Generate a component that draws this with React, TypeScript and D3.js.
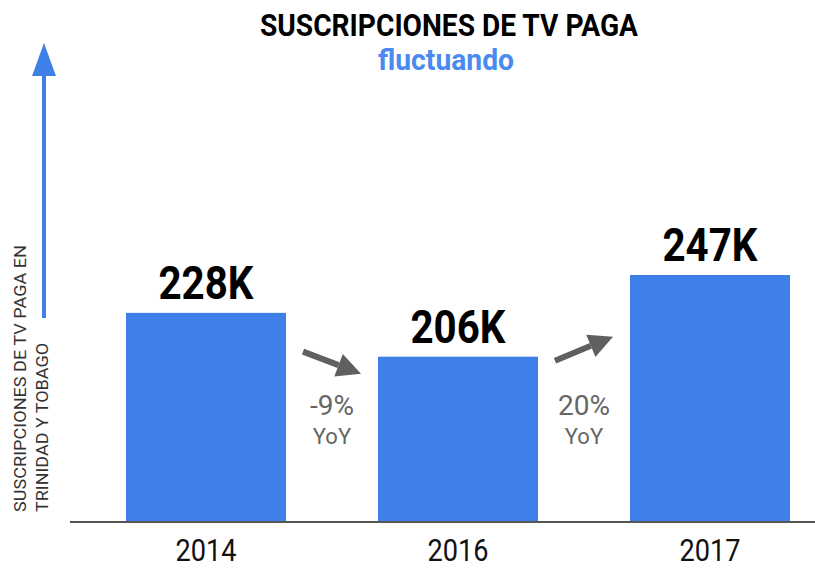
import React from "react";
import * as d3 from "d3";

const years = ["2014", "2016", "2017"];
const values = [228, 206, 247];
const valueLabels = ["228K", "206K", "247K"];
const yoyLabels = ["-9%", "20%"];
const title = "SUSCRIPCIONES DE TV PAGA";
const subtitle = "fluctuando";
const yLabelLines = ["SUSCRIPCIONES DE TV PAGA EN", "TRINIDAD Y TOBAGO"];

const W = 815;
const H = 568;
const BLUE = "#3f80e8";
const GRAY = "#606060";
const FONT = "Roboto, 'Noto Sans', sans-serif";

export default function App() {
  const x = d3.scaleBand<string>().domain(years).range([80, 836]).paddingInner(0.365).paddingOuter(0.1825);
  const y = d3.scaleLinear().domain([123, 247]).range([522, 275]);
  const bw = x.bandwidth();

  const arrows = years.slice(0, -1).map((yr, i) => {
    const x0 = (x(yr) as number) + bw;
    const x1 = x(years[i + 1]) as number;
    const cx = (x0 + x1) / 2;
    const up = values[i + 1] > values[i];
    const low = y(Math.min(values[i], values[i + 1]));
    const cy = up ? low - 8 : low + 6;
    const dx = 29;
    const dy = up ? -12 : 11;
    const sx = cx - dx, sy = cy - dy, ex = cx + dx, ey = cy + dy;
    const len = Math.hypot(ex - sx, ey - sy);
    const ux = (ex - sx) / len, uy = (ey - sy) / len;
    const hl = 24, hw = 12;
    const bx = ex - ux * hl, by = ey - uy * hl;
    const px = -uy, py = ux;
    const head = [
      [ex, ey],
      [bx + px * hw, by + py * hw],
      [bx - px * hw, by - py * hw],
    ];
    return { cx, sx, sy, bx, by, head, textY: low + 58, label: yoyLabels[i] };
  });

  return (
    <svg width={W} height={H} style={{ position: "absolute", left: 0, top: 0, background: "#fff" }} fontFamily={FONT}>
      <text x={449} y={36} textAnchor="middle" fontSize={32} fontWeight="bold" fill="#000" textLength={378} lengthAdjust="spacingAndGlyphs">{title}</text>
      <text x={446} y={70} textAnchor="middle" fontSize={29} fontWeight="bold" fill="#4a8af0" textLength={136} lengthAdjust="spacingAndGlyphs">{subtitle}</text>

      {/* y axis arrow */}
      <line x1={44} x2={44} y1={318} y2={72} stroke={BLUE} strokeWidth={4} />
      <polygon points={`44,43 32,76 56,76`} fill={BLUE} />
      {yLabelLines.map((t, i) => (
        <text key={t} transform={`translate(${26 + i * 22},512) rotate(-90)`} fontSize={17} fill="#333" textLength={i === 0 ? 267 : 169} lengthAdjust="spacingAndGlyphs">{t}</text>
      ))}

      {years.map((yr, i) => (
        <g key={yr}>
          <rect x={x(yr)} y={y(values[i])} width={bw} height={522 - y(values[i])} fill={BLUE} />
          <text x={(x(yr) as number) + bw / 2} y={y(values[i]) - 14} textAnchor="middle" fontSize={46} fontWeight="bold" fill="#000" textLength={95} lengthAdjust="spacingAndGlyphs">{valueLabels[i]}</text>
          <text x={(x(yr) as number) + bw / 2} y={561} textAnchor="middle" fontSize={31} fill="#111" textLength={61} lengthAdjust="spacingAndGlyphs">{yr}</text>
        </g>
      ))}

      <line x1={70} x2={815} y1={522} y2={522} stroke="#555" strokeWidth={2} />

      {arrows.map((a) => (
        <g key={a.label}>
          <line x1={a.sx} y1={a.sy} x2={a.bx} y2={a.by} stroke={GRAY} strokeWidth={6} />
          <polygon points={a.head.map((p) => p.join(",")).join(" ")} fill={GRAY} />
          <text x={a.cx} y={a.textY} textAnchor="middle" fontSize={28} fill="#666">{a.label}</text>
          <text x={a.cx} y={a.textY + 29} textAnchor="middle" fontSize={22} fill="#666">YoY</text>
        </g>
      ))}
    </svg>
  );
}
